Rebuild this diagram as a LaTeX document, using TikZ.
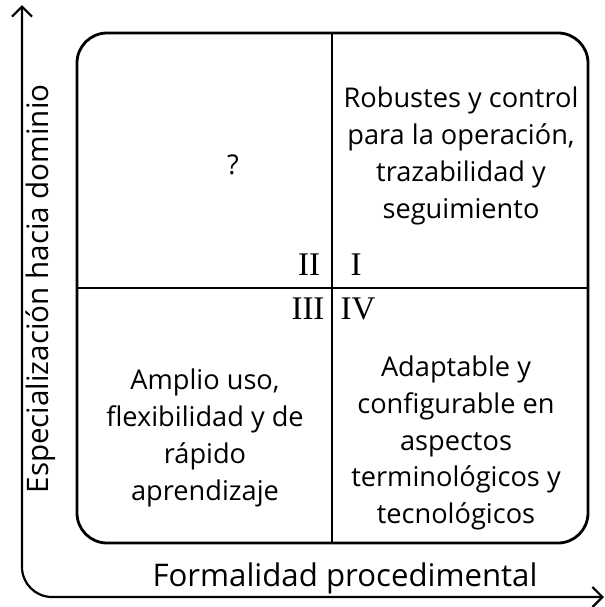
\documentclass[tikz,border=0pt]{standalone}
\usepackage{fontspec}
\setmainfont{Open Sans}
\newfontfamily\romfont{Liberation Serif}
\usetikzlibrary{arrows.meta}

\tikzset{
 cell/.style={align=center, font=\fontsize{13.6}{18.4}\selectfont},
 axlabel/.style={font=\fontsize{14.8}{16}\selectfont},
 num/.style={font=\romfont\fontsize{16.5}{18}\selectfont, inner sep=0pt},
}

\begin{document}
\begin{tikzpicture}[x=0.5pt,y=-0.5pt]
 \useasboundingbox (0,0) rectangle (605,607);
 % axes
 \coordinate (ytop) at (22,5);
 \coordinate (orig) at (22,597);
 \coordinate (xend) at (604,597);
 \draw [line width=1.1pt, rounded corners=15pt, {Straight Barb[length=5pt,width=10pt]}-{Straight Barb[length=5pt,width=10pt]}] (ytop) -- (orig) -- (xend);
 % box and quadrants
 \draw [line width=1.4pt, rounded corners=15pt] (77,33) rectangle (588,543);
 \draw [line width=1.4pt] (332,33) -- (332,543);
 \draw [line width=1.4pt] (77,288) -- (588,288);
 % texts
 \node[cell] (q2) at (233,165) {?};
 \node[cell] (q1) at (461,156) {Robustes y control\\para la operación,\\trazabilidad y\\seguimiento};
 \node[cell] (q3) at (205,438) {Amplio uso,\\flexibilidad y de\\rápido\\aprendizaje};
 \node[cell] (q4) at (456,443) {Adaptable y\\configurable en\\aspectos\\terminológicos y\\tecnológicos};
 \node[num] (n2) at (309,265) {II};
 \node[num] (n1) at (356,265) {I};
 \node[num] (n3) at (308,309) {III};
 \node[num] (n4) at (358,309) {IV};
 \node[axlabel, rotate=90] (ylab) at (41,289) {Especialización hacia dominio};
 \node[axlabel, font=\fontsize{15.6}{17}\selectfont] (xlab) at (345,578) {Formalidad procedimental};
\end{tikzpicture}
\end{document}
